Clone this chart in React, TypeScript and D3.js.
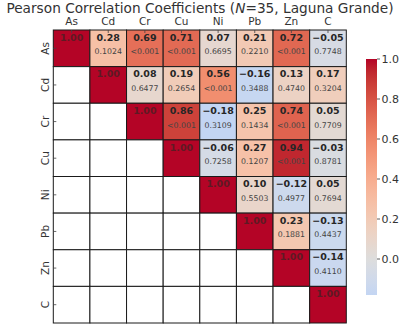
import React from 'react';
import * as d3 from 'd3';

const ELEMENTS = ['As', 'Cd', 'Cr', 'Cu', 'Ni', 'Pb', 'Zn', 'C'];

// upper triangle, row by row (diagonal excluded)
const R_AS = [0.28, 0.69, 0.71, 0.07, 0.21, 0.72, -0.05];
const R_CD = [0.08, 0.19, 0.56, -0.16, 0.13, 0.17];
const R_CR = [0.86, -0.18, 0.25, 0.74, 0.05];
const R_CU = [-0.06, 0.27, 0.94, -0.03];
const R_NI = [0.1, -0.12, 0.05];
const R_PB = [0.23, -0.13];
const R_ZN = [-0.14];

const P_AS = ['0.1024', '<0.001', '<0.001', '0.6695', '0.2210', '<0.001', '0.7748'];
const P_CD = ['0.6477', '0.2654', '<0.001', '0.3488', '0.4740', '0.3204'];
const P_CR = ['<0.001', '0.3109', '0.1434', '<0.001', '0.7709'];
const P_CU = ['0.7258', '0.1207', '<0.001', '0.8781'];
const P_NI = ['0.5503', '0.4977', '0.7694'];
const P_PB = ['0.1881', '0.4437'];
const P_ZN = ['0.4110'];

const R_ROWS = [R_AS, R_CD, R_CR, R_CU, R_NI, R_PB, R_ZN, []];
const P_ROWS = [P_AS, P_CD, P_CR, P_CU, P_NI, P_PB, P_ZN, []];

const CBAR_TICKS = [0, 0.2, 0.4, 0.6, 0.8, 1.0];

// matplotlib coolwarm (Moreland) control points
const COOLWARM = [
  '#3b4cc0', '#445acc', '#4d68d7', '#5775e1', '#6282ea', '#6c8ef1', '#779af7', '#82a5fb',
  '#8db0fe', '#98b9ff', '#a3c2ff', '#aec9fd', '#b8d0f9', '#c2d5f4', '#ccd9ee', '#d5dbe6',
  '#dddddd', '#e5d8d1', '#ecd3c5', '#f1ccb8', '#f5c4ac', '#f7bba0', '#f7b194', '#f7a687',
  '#f49a7b', '#f18d6f', '#ec7f63', '#e57058', '#de604d', '#d55042', '#cb3e38', '#c0282f',
  '#b40426',
];

const W = 400;
const H = 325;
const GRID = { left: 53.3, top: 30, size: 293 };
const CBAR = { x: 366, w: 11, top: 59 };

const cw = d3.piecewise(d3.interpolateRgb, COOLWARM);
const vmin = d3.min(R_ROWS.flat()) ?? -0.18;
const vmax = 1;
// seaborn's center=0: colours map to [-1, 1] of the full colormap
const colorOf = (v: number) => cw((v + 1) / 2);

const minus = (s: string) => s.replace('-', '\u2212');

const App: React.FC = () => {
  const x = d3.scaleBand().domain(ELEMENTS).range([GRID.left, GRID.left + GRID.size]);
  const y = d3.scaleBand().domain(ELEMENTS).range([GRID.top, GRID.top + GRID.size]);
  const bw = x.bandwidth();
  const bh = y.bandwidth();

  const cy = d3.scaleLinear().domain([0, 1]).range([CBAR.top + 200, CBAR.top]);
  const cbarBottom = cy(vmin);
  const stops = d3.range(0, 1.0001, 0.05).map((t) => ({
    off: t,
    col: colorOf(vmin + t * (vmax - vmin)),
  }));

  const cells: React.ReactNode[] = [];
  ELEMENTS.forEach((rowName, i) => {
    ELEMENTS.forEach((colName, j) => {
      const x0 = x(colName) ?? 0;
      const y0 = y(rowName) ?? 0;
      let fill = '#ffffff';
      let val: number | null = null;
      let p = '';
      if (i === j) {
        fill = colorOf(1);
        val = 1;
      } else if (j > i) {
        val = R_ROWS[i][j - i - 1];
        p = P_ROWS[i][j - i - 1];
        fill = colorOf(val);
      }
      cells.push(
        <g key={`${i}-${j}`}>
          <rect x={x0} y={y0} width={bw} height={bh} fill={fill} stroke="#1a1a1a" strokeWidth={1} />
          {val !== null && (
            <text
              x={x0 + bw / 2}
              y={y0 + 10.7}
              textAnchor="middle"
              fontWeight="bold"
              fontSize={9.5}
              fill={i === j ? '#5e1a24' : '#262626'}
            >
              {minus(val.toFixed(2))}
            </text>
          )}
          {p && (
            <text x={x0 + bw / 2} y={y0 + 24.3} textAnchor="middle" fontSize={7.8} fill="#444">
              {p}
            </text>
          )}
        </g>
      );
    });
  });

  return (
    <svg
      width={W}
      height={H}
      style={{ position: 'absolute', left: 0, top: 0 }}
      fontFamily="DejaVu Sans, sans-serif"
    >
      <defs>
        <linearGradient id="cbar" x1="0" y1="1" x2="0" y2="0">
          {stops.map((s, k) => (
            <stop key={k} offset={s.off} stopColor={s.col} />
          ))}
        </linearGradient>
      </defs>

      <text x={W / 2} y={12.7} textAnchor="middle" fontSize={13.7} fill="#333">
        Pearson Correlation Coefficients (<tspan fontStyle="italic">N</tspan>=35, Laguna Grande)
      </text>

      {cells}

      {ELEMENTS.map((e) => (
        <g key={`c-${e}`}>
          <text x={(x(e) ?? 0) + bw / 2} y={25} textAnchor="middle" fontSize={10.5} fill="#333">
            {e}
          </text>
          <line
            x1={(x(e) ?? 0) + bw / 2}
            x2={(x(e) ?? 0) + bw / 2}
            y1={GRID.top}
            y2={GRID.top + 3}
            stroke="#444"
            strokeWidth={0.8}
          />
          <text
            transform={`translate(48.5,${(y(e) ?? 0) + bh / 2}) rotate(-90)`}
            textAnchor="middle"
            fontSize={10.5}
            fill="#333"
          >
            {e}
          </text>
          <line
            x1={GRID.left}
            x2={GRID.left + 3}
            y1={(y(e) ?? 0) + bh / 2}
            y2={(y(e) ?? 0) + bh / 2}
            stroke="#444"
            strokeWidth={0.8}
          />
        </g>
      ))}

      <rect x={CBAR.x} y={CBAR.top} width={CBAR.w} height={cbarBottom - CBAR.top} fill="url(#cbar)" />
      {CBAR_TICKS.map((t) => (
        <g key={`t-${t}`}>
          <line x1={CBAR.x + CBAR.w} x2={CBAR.x + CBAR.w + 3} y1={cy(t)} y2={cy(t)} stroke="#333" strokeWidth={0.8} />
          <text x={CBAR.x + CBAR.w + 4.5} y={cy(t) + 4} fontSize={11} fill="#333">
            {t.toFixed(1)}
          </text>
        </g>
      ))}
    </svg>
  );
};

export default App;
